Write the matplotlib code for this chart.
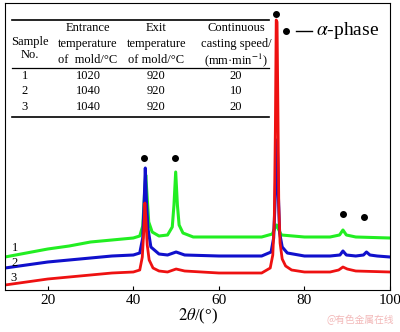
import matplotlib
matplotlib.use('Agg')
import matplotlib.pyplot as plt

plt.rcParams['font.family'] = ['Liberation Serif', 'DejaVu Serif']
plt.rcParams['mathtext.fontset'] = 'stix'

# curve 1 (green)
x1 = [10, 15, 20, 25, 30, 35, 40, 41.5, 42.2, 42.6, 42.9, 43.2, 43.6, 44.4, 46, 48, 49.1, 49.5, 49.9, 50.3, 50.7,
      51.6, 54, 60, 70, 72.5, 73.1, 73.5, 73.9, 74.6, 80, 86, 88.2, 89, 89.8, 92, 100]
y1 = [33, 37, 41, 44, 48, 50, 52, 54, 64, 95, 115, 95, 68, 58, 54, 55, 63, 85, 118, 85, 65,
      57, 53, 53, 53, 56, 62, 65, 61, 55, 53, 53, 55, 60, 55, 53, 52]
# curve 2 (blue)
x2 = [10, 15, 20, 25, 30, 35, 40, 41.5, 42.2, 42.55, 42.8, 43.05, 43.4, 44.1, 46, 48, 50, 52, 60, 70, 72.2, 72.8,
      73.15, 73.45, 73.65, 73.9, 74.2, 74.8, 76, 80, 86, 88.3, 89, 89.8, 92, 93.8, 94.5, 95.3, 97, 100]
y2 = [22, 25, 28, 30, 32, 34, 35, 37, 52, 90, 122, 90, 62, 43, 36, 35, 38, 35, 34, 34, 38, 52,
      90, 150, 148, 95, 57, 43, 37, 34, 34, 35, 39, 35, 34, 35, 38, 35, 34, 33]
# curve 3 (red)
x3 = [10, 15, 20, 25, 30, 35, 40, 41.5, 42.1, 42.45, 42.7, 42.95, 43.25, 43.7, 44.6, 46, 48, 50, 52, 60, 70, 72,
      72.6, 72.95, 73.2, 73.4, 73.6, 73.8, 74.0, 74.3, 74.8, 75.6, 77, 80, 86, 88, 89, 90, 92, 100]
y3 = [5, 8, 11, 13, 15, 17, 18, 20, 33, 60, 87, 70, 45, 30, 22, 19, 18, 21, 19, 17, 17, 22,
      35, 70, 160, 270, 268, 180, 85, 47, 31, 24, 20, 18, 18, 20, 23, 21, 19, 18]

# alpha-phase markers
dot_x = [42.6, 49.8, 73.3, 89.0, 93.9]
dot_y = [132, 132, 276, 76, 73]

xticks = [20, 40, 60, 80, 100]

table_rows = [['1', '1020', '920', '20'],
              ['2', '1040', '920', '10'],
              ['3', '1040', '920', '20']]

fig = plt.figure(figsize=(4.0, 3.32), dpi=100)
ax = fig.add_axes([0.0125, 0.1265, 0.9625, 0.8645])

ax.plot(x1, y1, color='#22ee22', lw=2.2)
ax.plot(x2, y2, color='#1010cc', lw=2.2)
ax.plot(x3, y3, color='#ee1111', lw=2.0)
ax.plot(dot_x, dot_y, 'o', color='black', ms=4)

ax.set_xlim(10, 100)
ax.set_ylim(0, 287)
ax.set_xticks(xticks)
ax.tick_params(axis='x', direction='in', length=3, labelsize=11, pad=3)
ax.set_yticks([])
ax.set_xlabel(r'$2\theta$/(°)', fontsize=12, labelpad=0)

# curve numbers
ax.text(12.3, 42, '1', fontsize=9, ha='center', va='center')
ax.text(12.3, 27, '2', fontsize=9, ha='center', va='center')
ax.text(12.0, 12, '3', fontsize=9, ha='center', va='center')

# legend
ax.plot([75.7], [259], 'o', color='black', ms=4)
ax.plot([78.1, 81.8], [259, 259], color='black', lw=1)
ax.text(82.7, 259, r'$\alpha$-phase', fontsize=14, va='center', ha='left')

# table
for yy, lw in [(270, 1.2), (222, 0.9), (173, 1.2)]:
    ax.axhline(yy, xmin=0.018, xmax=0.687, color='black', lw=lw)

cols = [15.8, 29.4, 45.4, 64.0]
fs = 9
ax.text(cols[0], 248, 'Sample', fontsize=fs, ha='center', va='center')
ax.text(cols[0], 235, 'No.', fontsize=fs, ha='center', va='center')
for i, line in enumerate(['Entrance', 'temperature', 'of  mold/°C']):
    ax.text(cols[1], 262 - 16 * i, line, fontsize=fs, ha='center', va='center')
for i, line in enumerate(['Exit', 'temperature', 'of mold/°C']):
    ax.text(cols[2], 262 - 16 * i, line, fontsize=fs, ha='center', va='center')
for i, line in enumerate(['Continuous', 'casting speed/', r'(mm·min$^{-1}$)']):
    ax.text(cols[3], 262 - 16 * i, line, fontsize=fs, ha='center', va='center')
for r, row in enumerate(table_rows):
    for c, val in enumerate(row):
        xx = cols[c] - 1.2 if c == 0 else cols[c]
        ax.text(xx, 214 - 15.5 * r, val, fontsize=fs, ha='center', va='center')

fig.text(0.985, 0.02, '@有色金属在线', fontsize=7, color='#f2b8b8', ha='right', va='bottom',
         family=['Noto Sans CJK SC', 'DejaVu Sans'])

fig.savefig('out.png', dpi=100)
